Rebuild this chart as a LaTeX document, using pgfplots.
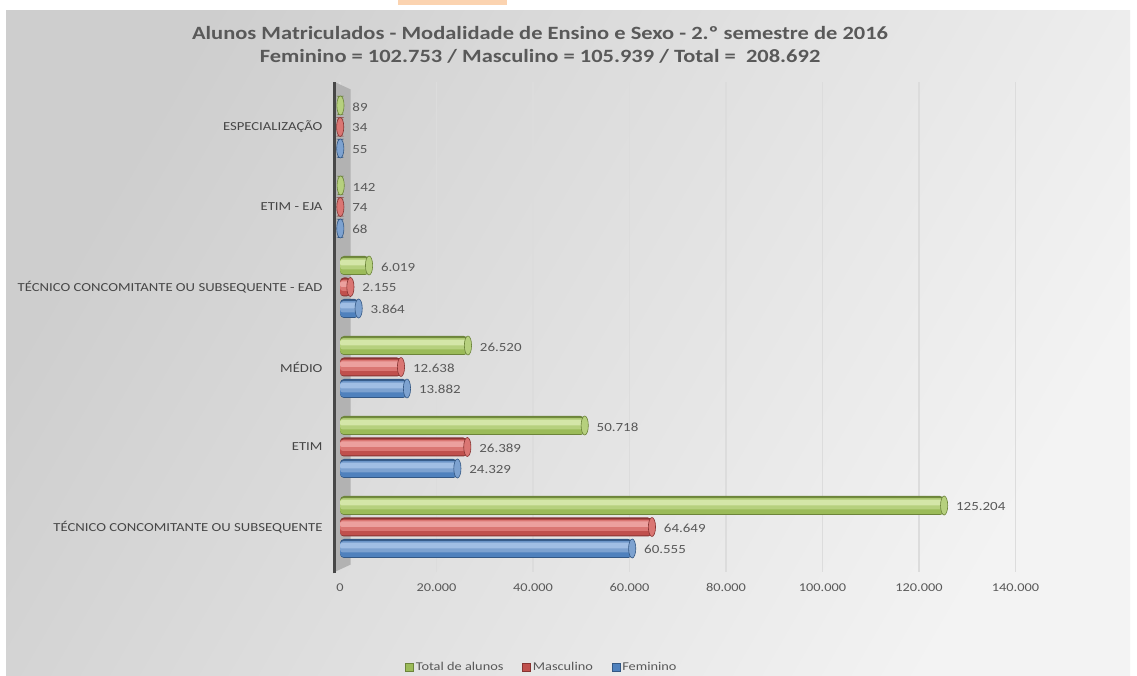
\documentclass[border=0pt]{standalone}
\usepackage{fontspec}
\setmainfont{Carlito}[FakeStretch=1.2]
\usepackage{pgfplots}
\usepackage{pgfplotstable}
\pgfplotsset{compat=1.18}
\definecolor{txtgray}{RGB}{89,89,89}
\definecolor{catgray}{RGB}{70,70,70}
\definecolor{bgL}{RGB}{206,206,206}
\definecolor{bgR}{RGB}{243,243,243}
\definecolor{peach}{RGB}{251,211,176}
\definecolor{gridc}{RGB}{220,220,220}
\definecolor{wallc}{RGB}{178,178,178}
\definecolor{bluem}{RGB}{79,129,189}
\definecolor{bluel}{RGB}{125,162,208}
\definecolor{bluell}{RGB}{160,190,228}
\definecolor{blued}{RGB}{52,88,132}
\definecolor{redm}{RGB}{192,80,77}
\definecolor{redl}{RGB}{218,118,115}
\definecolor{redll}{RGB}{236,160,158}
\definecolor{redd}{RGB}{135,52,50}
\definecolor{greenm}{RGB}{155,187,89}
\definecolor{greenl}{RGB}{182,208,126}
\definecolor{greenll}{RGB}{212,230,168}
\definecolor{greend}{RGB}{108,132,58}
\pgfplotstableread{
x y
125204 0
50718 1
26520 2
6019 3
142 4
89 5
}\totaldata
\pgfplotstableread{
x y
64649 0
26389 1
12638 2
2155 3
74 4
34 5
}\masdata
\pgfplotstableread{
x y
60555 0
24329 1
13882 2
3864 3
68 4
55 5
}\femdata
\pgfplotsset{
  cyl/.style n args={4}{forget plot, xbar, draw=none, fill=#1, bar width=#2, bar shift=#3, rounded corners=#4},
  cap/.style n args={3}{forget plot, only marks, mark=*, mark size=9.5bp,
     mark options={yshift=#3, xscale=0.38, fill=#1, draw=#2, line width=0.6bp}},
  vlabels/.style={point meta=x, nodes near coords, nodes near coords align={horizontal},
     every node near coord/.append style={font=\fontsize{12.5}{14}\selectfont, text=txtgray, xshift=8.5bp, yshift=#1}},
}
\begin{document}
\begin{tikzpicture}[x=1bp,y=1bp]
\path[use as bounding box] (0,0) rectangle (1137,676);
\fill[white] (0,0) rectangle (1137,676);
\fill[peach] (398,671) rectangle (507,676);
\shade[shading=axis, left color=bgL, right color=bgR, shading angle=60] (6,0) rectangle (1130,665);
\node[font=\bfseries\fontsize{18.8}{23}\selectfont, text=txtgray, align=center] at (540,631)
  {Alunos Matriculados - Modalidade de Ensino e Sexo - 2.º semestre de 2016\\Feminino = 102.753 / Masculino = 105.939 / Total =~ 208.692};
\begin{axis}[
  at={(340bp,104bp)}, anchor=south west, scale only axis,
  width=675.5bp, height=490bp, clip=false,
  xmin=0, xmax=140000, ymin=-0.5625, ymax=5.5625,
  xtick={0,20000,...,140000}, scaled x ticks=false,
  /pgf/number format/.cd, fixed, 1000 sep={.}, assume math mode=true, /pgfplots/.cd,
  ytick={0,1,2,3,4,5},
  yticklabels={TÉCNICO CONCOMITANTE OU SUBSEQUENTE, ETIM, MÉDIO, TÉCNICO CONCOMITANTE OU SUBSEQUENTE - EAD, ETIM - EJA, ESPECIALIZAÇÃO},
  yticklabel style={font=\fontsize{12.3}{14}\selectfont, text=catgray, xshift=-14bp},
  xticklabel style={font=\fontsize{12}{14}\selectfont, text=txtgray, yshift=-8bp},
  major tick length=0pt,
  axis line style={draw=none},
  xmajorgrids, grid style={gridc, line width=1.2bp},
  legend image code/.code={\fill[#1] (0bp,-4bp) rectangle (8bp,4bp);},
  legend style={at={(0.299,-0.194)}, anchor=center, draw=none, fill=none,
    legend columns=-1, font=\fontsize{12}{14}\selectfont, text=txtgray,
    /tikz/every even column/.append style={column sep=17bp}},
]
\fill[wallc] (axis cs:-1140,5.5625) -- (axis cs:2200,5.47) -- (axis cs:2200,-0.47) -- (axis cs:-1140,-0.5625) -- cycle;
\draw[line width=3bp, black!72] (axis cs:-1140,-0.58) -- (axis cs:-1140,5.5625);
\addlegendimage{fill=greenm, draw=greend}
\addlegendentry{Total de alunos}
\addlegendimage{fill=redm, draw=redd}
\addlegendentry{Masculino}
\addlegendimage{fill=bluem, draw=blued}
\addlegendentry{Feminino}
% Total de alunos (green)
\addplot[cyl={greend}{19bp}{21.5bp}{4bp}, vlabels=20bp] table[x=x,y=y] {\totaldata};
\addplot[cyl={greenm}{16bp}{21bp}{3.5bp}] table[x=x,y=y] {\totaldata};
\addplot[cyl={greenl}{11bp}{23bp}{3bp}] table[x=x,y=y] {\totaldata};
\addplot[cyl={greenll}{5.5bp}{24.25bp}{2bp}] table[x=x,y=y] {\totaldata};
\addplot[cap={greenl}{greend}{21.5bp}] table[x=x,y=y] {\totaldata};
% Masculino (red)
\addplot[cyl={redd}{19bp}{0bp}{4bp}, vlabels=-1bp] table[x=x,y=y] {\masdata};
\addplot[cyl={redm}{16bp}{-0.5bp}{3.5bp}] table[x=x,y=y] {\masdata};
\addplot[cyl={redl}{11bp}{1.5bp}{3bp}] table[x=x,y=y] {\masdata};
\addplot[cyl={redll}{5.5bp}{2.75bp}{2bp}] table[x=x,y=y] {\masdata};
\addplot[cap={redl}{redd}{0bp}] table[x=x,y=y] {\masdata};
% Feminino (blue)
\addplot[cyl={blued}{19bp}{-21.5bp}{4bp}, vlabels=-22.5bp] table[x=x,y=y] {\femdata};
\addplot[cyl={bluem}{16bp}{-22bp}{3.5bp}] table[x=x,y=y] {\femdata};
\addplot[cyl={bluel}{11bp}{-20bp}{3bp}] table[x=x,y=y] {\femdata};
\addplot[cyl={bluell}{5.5bp}{-18.75bp}{2bp}] table[x=x,y=y] {\femdata};
\addplot[cap={bluel}{blued}{-21.5bp}] table[x=x,y=y] {\femdata};
\end{axis}
\end{tikzpicture}
\end{document}
